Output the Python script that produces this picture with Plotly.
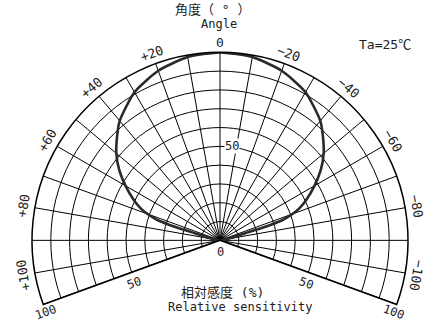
import math
import plotly.graph_objects as go

# ---- data ----
angle_left = [0, 10, 20, 30, 40, 45, 50, 55, 60, 65, 68, 70, 72, 73, 74, 75]
sens_left = [100, 99, 96, 91, 83, 77.5, 72, 65.5, 58, 50.5, 45.5, 41, 35, 28, 16, 0]
angle_right = [0, -10, -20, -30, -40, -45, -50, -55, -60, -65, -68, -70, -72, -73, -74, -75]
sens_right = [100, 99, 96, 91, 83, 77.5, 72, 65.5, 58, 50.5, 45.5, 41, 35, 28, 16, 0]

angle_ticks = [0, 20, 40, 60, 80, 100, -20, -40, -60, -80, -100]
angle_tick_text = ["0", "+20", "+40", "+60", "+80", "+100", "−20", "−40", "−60", "−80", "−100"]
radial_grid = [10, 20, 30, 40, 50, 60, 70, 80, 90, 100]
angular_grid = list(range(-100, 101, 10))
sector_edge = 110
r_max = 100

# ---- layout geometry ----
W, H = 428, 334
L, R, T, B = 32, 20, 52, 29
SECTOR = [-20, 200]

pw, ph = W - L - R, H - T - B
# mirror plotly's polar sizing to place text labels
xs = [math.cos(math.radians(a)) for a in SECTOR] + [1, -1]
ys = [math.sin(math.radians(a)) for a in SECTOR] + [1]
bx0, bx1, by0, by1 = min(xs), max(xs), min(ys + [0]), max(ys)
sect_aspect = (by1 - by0) / (bx1 - bx0)
if ph / pw > sect_aspect:
    xlen = pw
    ylen = pw * sect_aspect
    xoff, yoff = L, T + (ph - ylen) / 2
else:
    ylen = ph
    xlen = ph / sect_aspect
    xoff, yoff = L + (pw - xlen) / 2, T
RAD = xlen / (bx1 - bx0)
CX = xoff - RAD * bx0
CY = yoff + RAD * by1


def fig_to_paper(px, py):
    return (px - L) / pw, 1 - (py - T) / ph


def polar_to_paper(theta, rfrac):
    px = CX - RAD * rfrac * math.sin(math.radians(theta))
    py = CY - RAD * rfrac * math.cos(math.radians(theta))
    return fig_to_paper(px, py)


FONT = "DejaVu Sans Mono, Noto Sans CJK JP, sans-serif"
TXT = "#222222"


def label(x, y, text, size, angle=0, **extra):
    return dict(x=x, y=y, xref="paper", yref="paper", text=text, showarrow=False,
                textangle=angle, xanchor="center", yanchor="middle",
                font=dict(family=FONT, size=size, color=TXT), **extra)


fig = go.Figure()

fig.add_trace(go.Scatterpolar(
    r=[r_max, 0, r_max], theta=[sector_edge, 0, -sector_edge],
    mode="lines", line=dict(color="black", width=2), hoverinfo="skip",
    showlegend=False))

fig.add_trace(go.Scatterpolar(
    r=sens_right[::-1] + sens_left[1:],
    theta=angle_right[::-1] + angle_left[1:],
    mode="lines", line=dict(color="#2a2a2a", width=2.6, shape="spline", smoothing=0.6),
    showlegend=False))

annotations = []
for th, tx in zip(angle_ticks, angle_tick_text):
    rr = 1.052 if th == 0 else 1.06
    x, y = polar_to_paper(th, rr)
    annotations.append(label(x, y, tx, 13, -th))

# radial labels
x, y = fig_to_paper(CX, CY + 12)
annotations.append(label(x, y, "0", 12))
x, y = fig_to_paper(CX + 12, CY - RAD * 0.5)
annotations.append(label(x, y, "50", 12, bgcolor="white", borderpad=0))
for th, rr, tx in [(116.5, 0.51, "50"), (112.4, 1.0, "100")]:
    x, y = polar_to_paper(th, rr)
    annotations.append(label(x, y, tx, 12, -20))
    x, y = polar_to_paper(-th, rr)
    annotations.append(label(x, y, tx, 12, 20))

for tx, (px, py), sz in [("角度（ ° ）", (212, 9), 13),
                         ("Angle", (218.5, 24), 12),
                         ("Ta=25℃", (385, 45), 13),
                         ("相対感度 (%)", (222, 292), 13),
                         ("Relative sensitivity", (240.5, 307), 12)]:
    x, y = fig_to_paper(px, py)
    annotations.append(label(x, y, tx, sz))

fig.update_layout(
    width=W, height=H,
    margin=dict(l=L, r=R, t=T, b=B, pad=0),
    paper_bgcolor="white", plot_bgcolor="white",
    showlegend=False,
    annotations=annotations,
    polar=dict(
        sector=SECTOR,
        bgcolor="white",
        domain=dict(x=[0, 1], y=[0, 1]),
        angularaxis=dict(rotation=90, direction="counterclockwise",
                         tickmode="array", tickvals=angular_grid,
                         showticklabels=False, ticks="",
                         showline=True, linecolor="black", linewidth=1.5,
                         showgrid=True, gridcolor="black", gridwidth=1),
        radialaxis=dict(range=[0, r_max], tickmode="array", tickvals=radial_grid,
                        showticklabels=False, ticks="", showline=False,
                        showgrid=True, gridcolor="black", gridwidth=1),
    ),
)

fig.write_html("out.html", config={"displayModeBar": False},
               post_script="document.body.style.margin='0';document.body.style.padding='0';")
